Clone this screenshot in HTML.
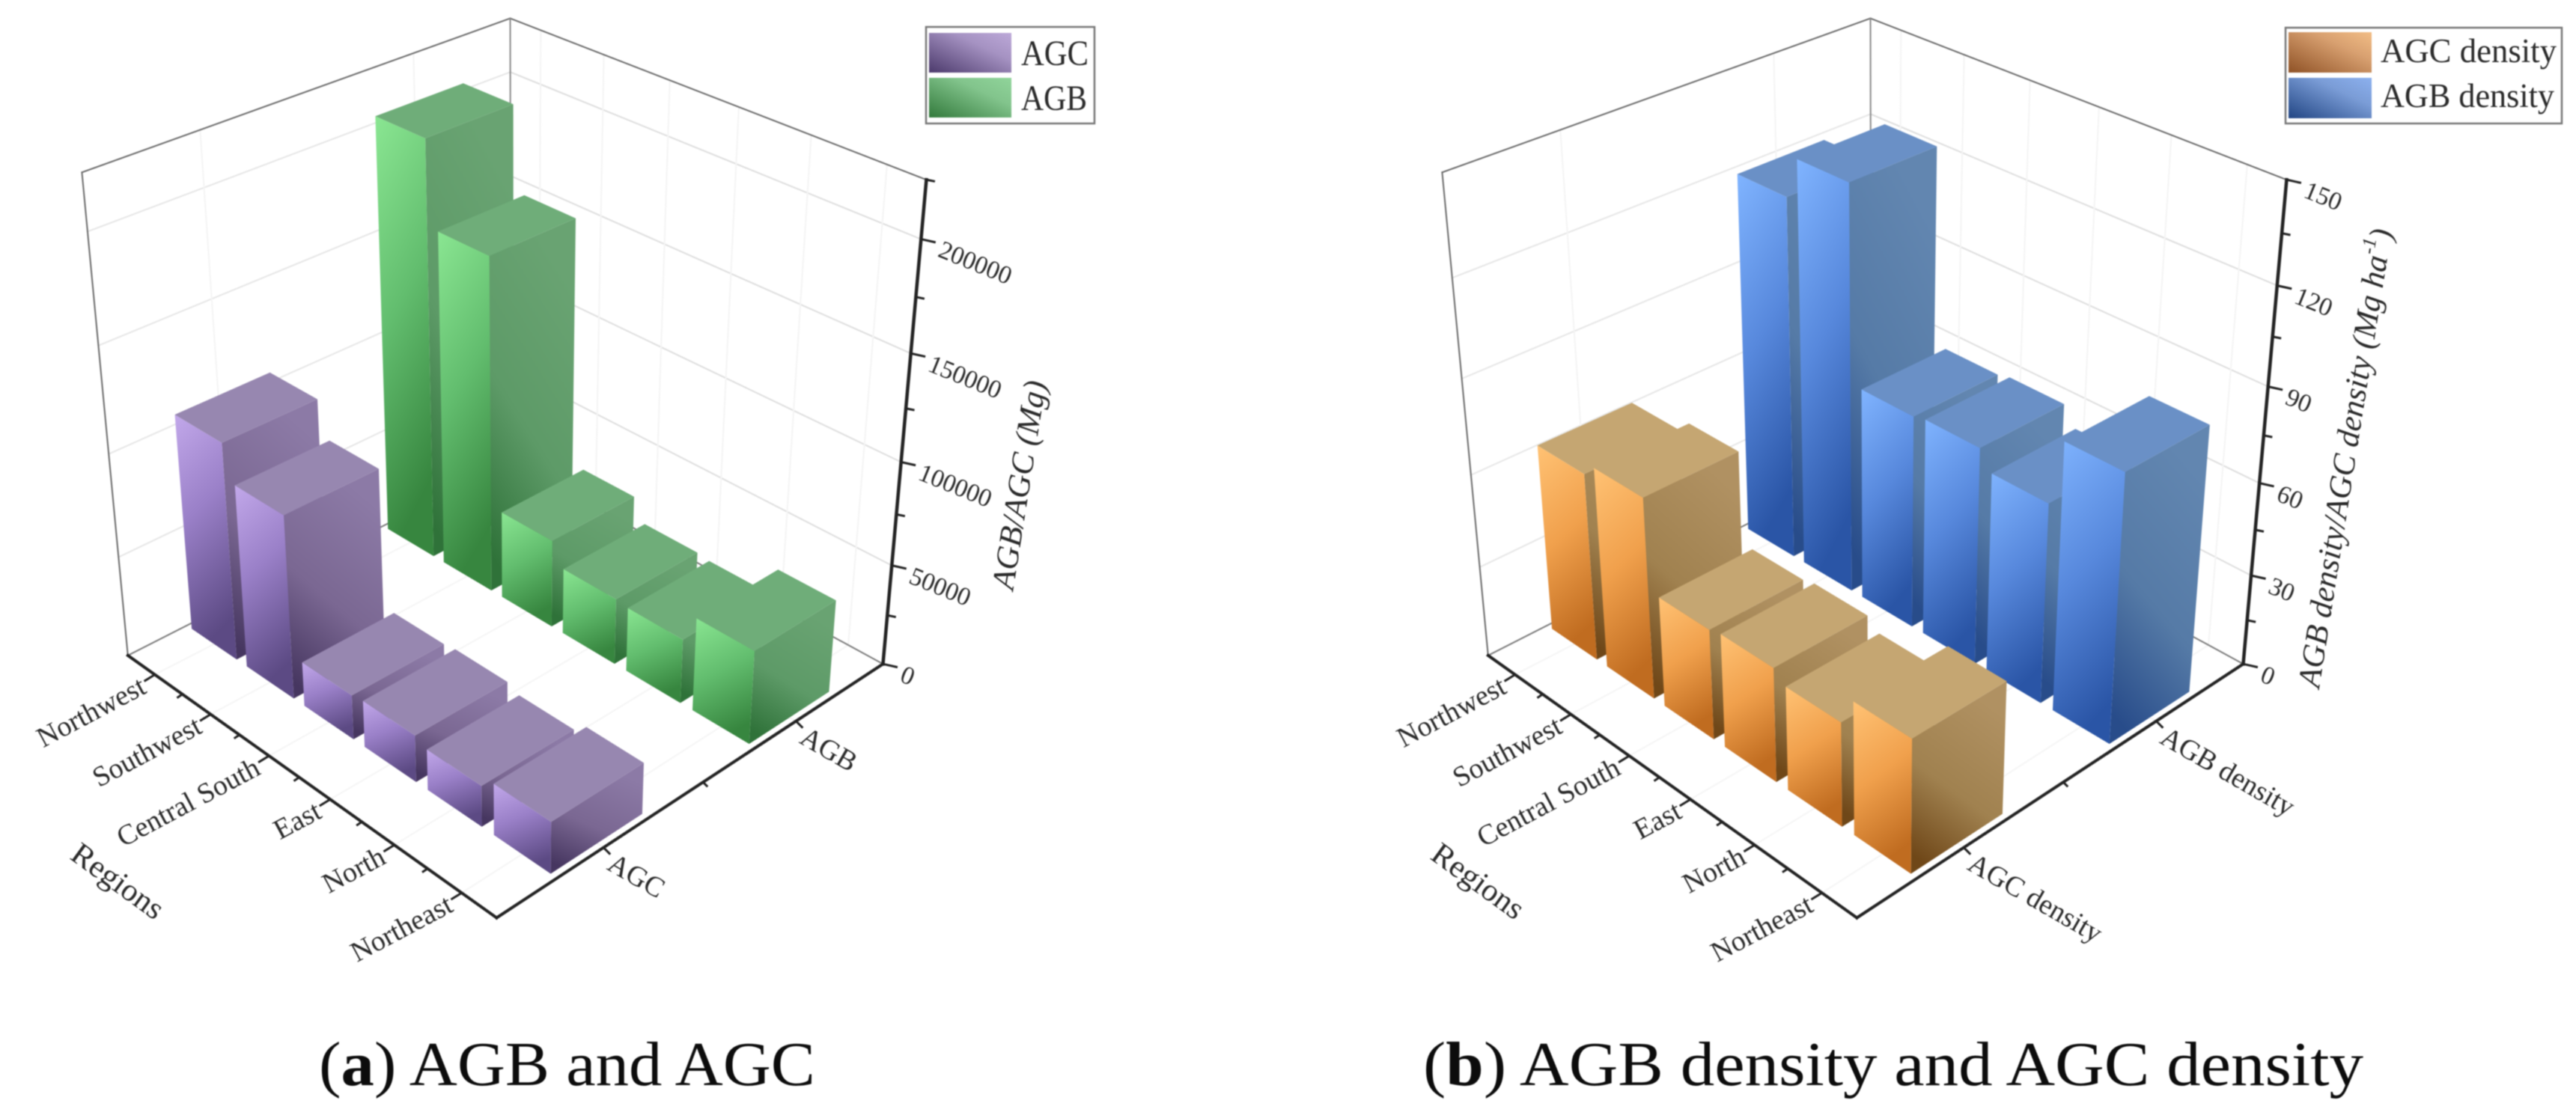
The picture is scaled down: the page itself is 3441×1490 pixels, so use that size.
<!DOCTYPE html>
<html>
<head>
<meta charset="utf-8">
<title>AGB and AGC 3D bar charts</title>
<style>
html,body{margin:0;padding:0;background:#fff;}
svg{display:block;}
text{font-family:"Liberation Serif",serif;fill:#2a2a2a;}
text.caption{fill:#0c0c0c;}
#content{filter:blur(0.9px);}
</style>
</head>
<body>
<svg id="fig" width="3441" height="1490" viewBox="0 0 3441 1490" xmlns="http://www.w3.org/2000/svg">
<defs>
<linearGradient id="purpleL" x1="0" y1="0" x2="0.25" y2="1"><stop offset="0" stop-color="#c2a8ea"/><stop offset="0.45" stop-color="#9a80c8"/><stop offset="1" stop-color="#5c4a84"/></linearGradient>
<linearGradient id="purpleD" x1="0.5" y1="0" x2="0.15" y2="0.95"><stop offset="0" stop-color="#8c7aa6"/><stop offset="0.55" stop-color="#7a6792"/><stop offset="1" stop-color="#463660"/></linearGradient>
<linearGradient id="greenL" x1="0" y1="0" x2="0.25" y2="1"><stop offset="0" stop-color="#8ae692"/><stop offset="0.5" stop-color="#62bd6e"/><stop offset="1" stop-color="#37863f"/></linearGradient>
<linearGradient id="greenD" x1="0.5" y1="0" x2="0.15" y2="0.95"><stop offset="0" stop-color="#69a372"/><stop offset="0.55" stop-color="#5d9a67"/><stop offset="1" stop-color="#2f7239"/></linearGradient>
<linearGradient id="blueL" x1="0" y1="0" x2="0.25" y2="1"><stop offset="0" stop-color="#80b4ff"/><stop offset="0.5" stop-color="#5788dc"/><stop offset="1" stop-color="#2a55a6"/></linearGradient>
<linearGradient id="blueD" x1="0.5" y1="0" x2="0.15" y2="0.95"><stop offset="0" stop-color="#6286b0"/><stop offset="0.55" stop-color="#557aa6"/><stop offset="1" stop-color="#284c8a"/></linearGradient>
<linearGradient id="orangeL" x1="0" y1="0" x2="0.25" y2="1"><stop offset="0" stop-color="#ffc274"/><stop offset="0.5" stop-color="#f0a04c"/><stop offset="1" stop-color="#c06c20"/></linearGradient>
<linearGradient id="orangeD" x1="0.5" y1="0" x2="0.15" y2="0.95"><stop offset="0" stop-color="#b09162"/><stop offset="0.55" stop-color="#a0814f"/><stop offset="1" stop-color="#6f4718"/></linearGradient>
<linearGradient id="legPurple" x1="0" y1="1" x2="1" y2="0"><stop offset="0" stop-color="#4c3a6c"/><stop offset="0.65" stop-color="#a592c2"/><stop offset="1" stop-color="#bca8d8"/></linearGradient>
<linearGradient id="legGreen" x1="0" y1="1" x2="1" y2="0"><stop offset="0" stop-color="#337a3c"/><stop offset="0.65" stop-color="#82c48c"/><stop offset="1" stop-color="#90d49a"/></linearGradient>
<linearGradient id="legOrange" x1="0" y1="1" x2="1" y2="0"><stop offset="0" stop-color="#8f5226"/><stop offset="0.65" stop-color="#d8a070"/><stop offset="1" stop-color="#f2bd85"/></linearGradient>
<linearGradient id="legBlue" x1="0" y1="1" x2="1" y2="0"><stop offset="0" stop-color="#224684"/><stop offset="0.65" stop-color="#7a9cd6"/><stop offset="1" stop-color="#8cb0ee"/></linearGradient>
</defs>
<g id="content">
<g id="chartA"></g>
<g id="chartB"></g>

<g>
<rect x="1237" y="36" width="225" height="129" fill="#fff" stroke="#777" stroke-width="2.5"/>
<rect x="1241" y="44" width="110" height="53" fill="url(#legPurple)"/>
<rect x="1241" y="104" width="110" height="53" fill="url(#legGreen)"/>
<text x="1364" y="87" font-size="48" textLength="90" lengthAdjust="spacingAndGlyphs">AGC</text>
<text x="1364" y="147" font-size="48" textLength="88" lengthAdjust="spacingAndGlyphs">AGB</text>
</g>
<g>
<rect x="3053" y="37" width="369" height="128" fill="#fff" stroke="#777" stroke-width="2.5"/>
<rect x="3057" y="43" width="111" height="54" fill="url(#legOrange)"/>
<rect x="3057" y="104" width="111" height="54" fill="url(#legBlue)"/>
<text x="3180" y="83" font-size="45" textLength="235" lengthAdjust="spacingAndGlyphs">AGC density</text>
<text x="3180" y="143" font-size="45" textLength="232" lengthAdjust="spacingAndGlyphs">AGB density</text>
</g>

<text x="1362" y="648" font-size="43" font-style="italic" text-anchor="middle" dominant-baseline="central" transform="rotate(-81 1362 648)" textLength="282" lengthAdjust="spacingAndGlyphs">AGB/AGC (Mg)</text>
<text x="3133" y="612" font-size="43" font-style="italic" text-anchor="middle" dominant-baseline="central" transform="rotate(-81 3133 612)" textLength="620" lengthAdjust="spacingAndGlyphs">AGB density/AGC density (Mg ha<tspan font-size="26" dy="-14">-1</tspan><tspan dy="14">)</tspan></text>

<text x="157" y="1178" font-size="42" text-anchor="middle" dominant-baseline="central" transform="rotate(36 157 1178)" textLength="142" lengthAdjust="spacingAndGlyphs">Regions</text>
<text x="1974" y="1178" font-size="42" text-anchor="middle" dominant-baseline="central" transform="rotate(36 1974 1178)" textLength="142" lengthAdjust="spacingAndGlyphs">Regions</text>

<text class="caption" x="426" y="1450" font-size="84" textLength="663" lengthAdjust="spacingAndGlyphs">(<tspan font-weight="bold">a</tspan>) AGB and AGC</text>
<text class="caption" x="1901" y="1450" font-size="84" textLength="1256" lengthAdjust="spacingAndGlyphs">(<tspan font-weight="bold">b</tspan>) AGB density and AGC density</text>
</g>
</svg>

<script>
// ---- chart data ----
const categories = ["Northwest", "Southwest", "Central South", "East", "North", "Northeast"];
const agbValues = [205000, 165000, 44000, 33000, 32000, 46000];
const agcValues = [107000, 90000, 22000, 23000, 20000, 25000];
const agbDensityValues = [119, 132, 70, 71, 65, 86];
const agcDensityValues = [61.5, 65.5, 36, 37, 33.5, 42.5];
const zTicksA = [0, 50000, 100000, 150000, 200000];
const zMinorTicksA = [25000, 75000, 125000, 175000, 225000];
const zTicksB = [0, 30, 60, 90, 120, 150];
const zMinorTicksB = [15, 45, 75, 105, 135];
const zMaxA = 225000;
const zMaxB = 150;
const seriesNamesA = ["AGC", "AGB"];
const seriesNamesB = ["AGC density", "AGB density"];

// ---- projective camera, fitted to the box corners and axis ticks ----
const camera = [
  [0,0,0,176,875],[1,0,0,662,1223],[1,1,0,1178,884],[0,1,0,679,615],
  [0,0,1,110,228],[1,1,1,1237,240],[0,1,1,682,24],
  [.5/6,0,0,207,903],[1.5/6,0,0,281,957],[2.5/6,0,0,359,1013],
  [3.5/6,0,0,439,1068],[4.5/6,0,0,522,1130],[5.5/6,0,0,614,1193],
  [1,.25,0,811,1131],[1,.5,0,940,1045],[1,.75,0,1067,964],
  [1,1,1/9,1186,823],[1,1,2/9,1192,756],[1,1,3/9,1198,689],[1,1,4/9,1204,617],
  [1,1,5/9,1210,547],[1,1,6/9,1217,473],[1,1,7/9,1223,398],[1,1,8/9,1229,320]
];
function fitCamera(pts){
  const n = 11;
  const M = [];
  for(let i=0;i<n;i++){ M.push(new Array(n+1).fill(0)); }
  function add(r,b){
    for(let i=0;i<n;i++){
      for(let j=0;j<n;j++){ M[i][j]+=r[i]*r[j]; }
      M[i][n]+=r[i]*b;
    }
  }
  pts.forEach(function(p){
    const U=p[0],V=p[1],W=p[2],x=p[3]/1000,y=p[4]/1000;
    add([U,V,W,1,0,0,0,0,-x*U,-x*V,-x*W],x);
    add([0,0,0,0,U,V,W,1,-y*U,-y*V,-y*W],y);
  });
  for(let c=0;c<n;c++){
    let piv=c;
    for(let r=c+1;r<n;r++){ if(Math.abs(M[r][c])>Math.abs(M[piv][c])) piv=r; }
    const t=M[c]; M[c]=M[piv]; M[piv]=t;
    for(let r=0;r<n;r++){
      if(r===c) continue;
      const f=M[r][c]/M[c][c];
      for(let k=c;k<=n;k++){ M[r][k]-=f*M[c][k]; }
    }
  }
  return M.map(function(row,i){ return row[n]/row[i]; });
}
const P = fitCamera(camera);
function project(u,v,w,dx){
  const d=P[8]*u+P[9]*v+P[10]*w+1;
  return [1000*(P[0]*u+P[1]*v+P[2]*w+P[3])/d+dx, 1000*(P[4]*u+P[5]*v+P[6]*w+P[7])/d];
}
const NS="http://www.w3.org/2000/svg";
function mk(tag,attrs,parent){
  const el=document.createElementNS(NS,tag);
  for(const k in attrs){ el.setAttribute(k,attrs[k]); }
  parent.appendChild(el);
  return el;
}
function pts(list){ return list.map(function(p){ return p[0].toFixed(1)+","+p[1].toFixed(1); }).join(" "); }

function drawChart(rootId,dx,cfg){
  const root=document.getElementById(rootId);
  const nCat=categories.length;
  const pr=function(u,v,w){ return project(u,v,w,dx); };
  const segment=function(a,b,color,width,name){
    const l=mk('line',{x1:a[0],y1:a[1],x2:b[0],y2:b[1],stroke:color,'stroke-width':width,'stroke-linecap':'square'},root);
    
    
    return l;
  };
  const zScale=function(val){ return val/cfg.zMax; };

  // gridlines on walls and floor
  cfg.zTicks.slice(1).forEach(function(t){
    const w=zScale(t);
    if(w<1){
      segment(pr(0,0,w),pr(0,1,w),'#e6e6e6',2,'grid-left-wall-z');
      segment(pr(0,1,w),pr(1,1,w),'#dedede',2,'grid-right-wall-z');
    }
  });
  for(let i=0;i<nCat;i++){
    const u=(i+.5)/nCat;
    segment(pr(u,1,0),pr(u,1,1),'#f4f4f4',2,'grid-right-wall-category');
    segment(pr(u,0,0),pr(u,1,0),'#f5f5f5',2,'grid-floor-category');
  }
  [0.25,0.75].forEach(function(v){
    segment(pr(0,v,0),pr(0,v,1),'#f4f4f4',2,'grid-left-wall-series');
    segment(pr(0,v,0),pr(1,v,0),'#f5f5f5',2,'grid-floor-series');
  });

  // box edges behind the bars
  segment(pr(0,0,1),pr(0,1,1),'#6a6a6a',2,'wall-top-edge-left');
  segment(pr(0,1,1),pr(1,1,1),'#6a6a6a',2,'wall-top-edge-right');
  segment(pr(0,0,0),pr(0,0,1),'#6a6a6a',2,'wall-left-edge');
  segment(pr(0,1,0),pr(0,1,1),'#8a8a8a',2,'wall-back-edge');
  segment(pr(0,0,0),pr(0,1,0),'#7a7a7a',2,'floor-back-edge-left');
  segment(pr(0,1,0),pr(1,1,0),'#7a7a7a',2,'floor-back-edge-right');

  // bars, painted back to front
  const barU=0.82/nCat, barV=0.222;
  cfg.rows.forEach(function(row){
    row.values.forEach(function(val,i){
      const uc=(i+.5)/nCat;
      const u0=uc-barU/2,u1=uc+barU/2,v0=row.v-barV/2,v1=row.v+barV/2,w=zScale(val);
      const g=mk('g',{},root);
      
      
      const right=mk('polygon',{points:pts([pr(u1,v0,0),pr(u1,v1,0),pr(u1,v1,w),pr(u1,v0,w)]),fill:'url(#'+row.dark+')'},g);
      
      
      const left=mk('polygon',{points:pts([pr(u0,v0,0),pr(u1,v0,0),pr(u1,v0,w),pr(u0,v0,w)]),fill:'url(#'+row.light+')'},g);
      
      
      const top=mk('polygon',{points:pts([pr(u0,v0,w),pr(u1,v0,w),pr(u1,v1,w),pr(u0,v1,w)]),fill:row.top},g);
      
      
    });
  });

  // front axes
  segment(pr(0,0,0),pr(1,0,0),'#222',4,'region-axis-line');
  segment(pr(1,0,0),pr(1,1,0),'#222',4,'series-axis-line');
  segment(pr(1,1,0),pr(1,1,1),'#222',4.5,'z-axis-line');

  // region ticks and labels
  const regionTick=[-13,8], regionMinor=[-6,4];
  for(let i=0;i<=nCat;i++){
    if(i>=1 && i<nCat){
      const m=pr(i/nCat,0,0);
      segment(m,[m[0]+regionMinor[0],m[1]+regionMinor[1]],'#222',3,'region-minor-tick');
    }
    if(i<nCat){
      const p=pr((i+.5)/nCat,0,0);
      segment(p,[p[0]+regionTick[0],p[1]+regionTick[1]],'#222',3,'region-tick');
      const lx=p[0]-15, ly=p[1]+13;
      const t=mk('text',{x:lx,y:ly,'font-size':38,'text-anchor':'end','dominant-baseline':'central',transform:'rotate(-28 '+lx+' '+ly+')'},root);
      t.textContent=categories[i];
      
      
    }
  }

  // series ticks and labels
  [0.25,0.5,0.75].forEach(function(v,k){
    const p=pr(1,v,0);
    const major=k!==1;
    segment(p,[p[0]+(major?8:5),p[1]+(major?8:5)],'#222',3,major?'series-tick':'series-minor-tick');
    if(major){
      const lx=p[0]+9, ly=p[1]+18;
      const t=mk('text',{x:lx,y:ly,'font-size':38,'text-anchor':'start','dominant-baseline':'central',transform:'rotate(30 '+lx+' '+ly+')'},root);
      t.textContent=cfg.seriesNames[k===0?0:1];
      
      
    }
  });

  // z ticks and labels
  cfg.zMinor.forEach(function(t){
    const p=pr(1,1,zScale(t));
    segment(p,[p[0]+10,p[1]+2],'#222',3,'z-minor-tick');
  });
  cfg.zTicks.forEach(function(val){
    const p=pr(1,1,zScale(val));
    segment(p,[p[0]+18,p[1]+4],'#222',3,'z-tick');
    const lx=p[0]+25, ly=p[1]+13;
    const t=mk('text',{x:lx,y:ly,'font-size':34,'text-anchor':'start','dominant-baseline':'central',transform:'rotate(22 '+lx+' '+ly+')'},root);
    t.textContent=String(val);
    
    
  });
}

drawChart('chartA',0,{
  zMax:zMaxA,zTicks:zTicksA,zMinor:zMinorTicksA,seriesNames:seriesNamesA,
  rows:[
    {key:'agb',v:0.75,values:agbValues,light:'greenL',dark:'greenD',top:'#6fad79'},
    {key:'agc',v:0.25,values:agcValues,light:'purpleL',dark:'purpleD',top:'#9787b0'}
  ]
});
drawChart('chartB',1817,{
  zMax:zMaxB,zTicks:zTicksB,zMinor:zMinorTicksB,seriesNames:seriesNamesB,
  rows:[
    {key:'agb-density',v:0.75,values:agbDensityValues,light:'blueL',dark:'blueD',top:'#6a90c6'},
    {key:'agc-density',v:0.25,values:agcDensityValues,light:'orangeL',dark:'orangeD',top:'#c5a672'}
  ]
});
</script>
</body>
</html>
